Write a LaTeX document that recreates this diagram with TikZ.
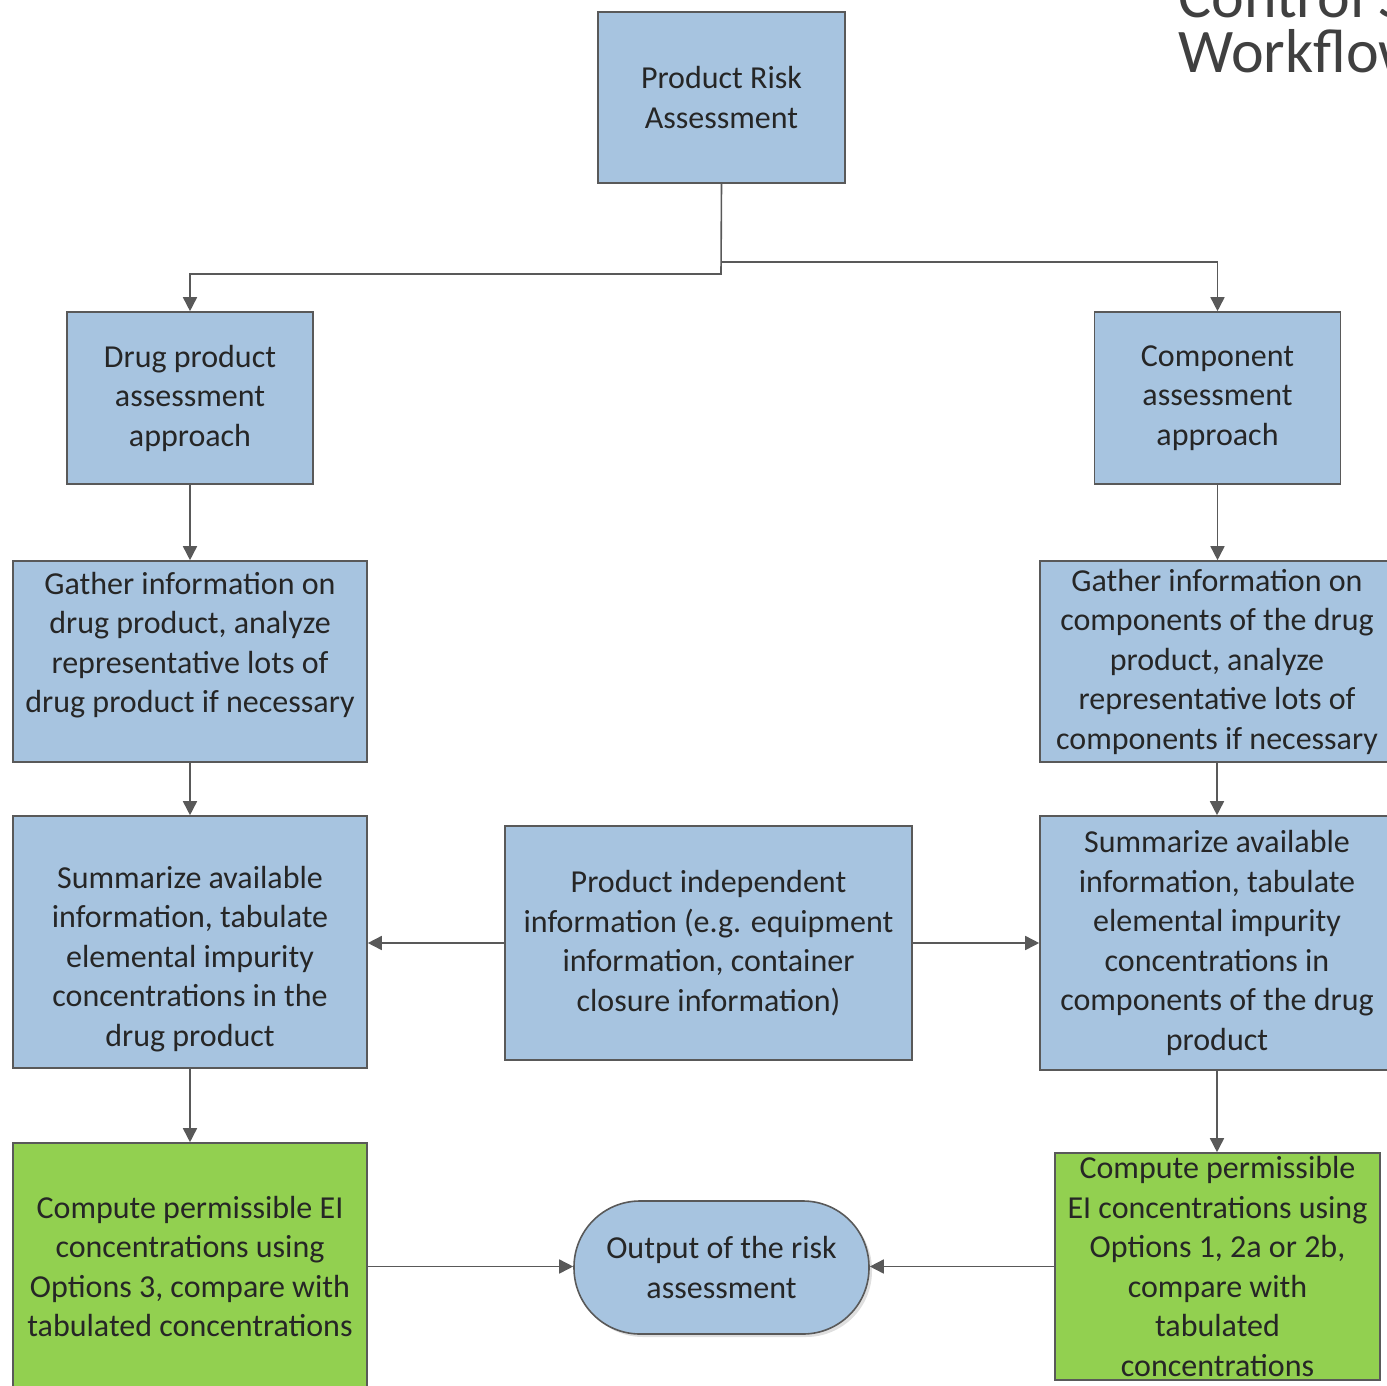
\documentclass[tikz,border=0pt]{standalone}
\usepackage{fontspec}
\setmainfont{Carlito}
\usetikzlibrary{arrows.meta,positioning,calc,shadows}

\definecolor{boxblue}{HTML}{A7C4E0}
\definecolor{boxgreen}{HTML}{92D050}
\definecolor{edgegray}{HTML}{595959}
\definecolor{titlegray}{HTML}{404040}

\begin{document}
\begin{tikzpicture}[
    x=0.5pt, y=-0.5pt,
    font=\fontsize{16}{19.75}\selectfont,
    box/.style={draw=edgegray, line width=0.8pt, fill=boxblue, align=center,
      text=black!85, inner sep=2pt},
    greenbox/.style={box, fill=boxgreen},
    arrow/.style={-{Triangle[length=7pt,width=7pt]}, draw=edgegray, line width=0.8pt}
  ]
    \path[use as bounding box, clip] (0,0) rectangle (1387,1386);

    % title, cut off by the page edge
    \node[anchor=base west, inner sep=0pt, text=titlegray, align=left,
      font=\fontsize{31}{27.5}\selectfont] (title) at (1178,73) {Control S\\Workflow};

    \node[box, minimum width=123.5pt, minimum height=85.5pt] (prisk) at (721.5,97.5)
      {Product Risk\\Assessment};

    % left column
    \node[box, minimum width=123pt, minimum height=86pt] (drugapp) at (190,398)
      {Drug product\\assessment\\approach};
    \node[box, minimum width=177pt, minimum height=100.5pt, text depth=19pt] (gatherl) at (190,661.5)
      {Gather information on\\drug product, analyze\\representative lots of\\drug product if necessary};
    \node[box, minimum width=177pt, minimum height=126pt, text height=107pt] (suml) at (190,942)
      {Summarize available\\information, tabulate\\elemental impurity\\concentrations in the\\drug product};
    \node[greenbox, minimum width=177pt, minimum height=123.5pt] (computel) at (190,1266.5)
      {Compute permissible EI\\concentrations using\\Options 3, compare with\\tabulated concentrations};

    % right column
    \node[box, minimum width=123pt, minimum height=86pt] (compapp) at (1217.5,398)
      {Component\\assessment\\approach};
    \node[box, minimum width=177pt, minimum height=100.5pt, inner ysep=0pt] (gatherr) at (1217,661.5)
      {Gather information on\\components of the drug\\product, analyze\\representative lots of\\components if necessary};
    \node[box, minimum width=177pt, minimum height=127pt] (sumr) at (1217,943)
      {Summarize available\\information, tabulate\\elemental impurity\\concentrations in\\components of the drug\\product};
    \node[greenbox, minimum width=162.5pt, minimum height=113.5pt, inner ysep=0pt] (computer) at (1217.5,1266.5)
      {Compute permissible\\EI concentrations using\\Options 1, 2a or 2b,\\compare with\\tabulated\\concentrations};

    % middle
    \node[box, minimum width=203.5pt, minimum height=117pt] (indep) at (708.5,943)
      {Product independent\\information (e.g. equipment\\information, container\\closure information)};
    \node[box, minimum width=147.5pt, minimum height=66.5pt, rounded corners=33pt,
      drop shadow={opacity=0.25, shadow xshift=1.5pt, shadow yshift=-1.5pt}] (output) at (721.5,1267.5)
      {Output of the risk\\assessment};

    % connectors
    \coordinate (splitl) at (721,274);
    \coordinate (splitr) at (721,262);
    \draw[arrow] (prisk.south) -- (splitl) -| (drugapp.north);
    \draw[arrow] (splitr) -| (compapp.north);
    \draw[arrow] (drugapp.south) -- (gatherl.north);
    \draw[arrow] (gatherl.south) -- (suml.north);
    \draw[arrow] (suml.south) -- (computel.north);
    \draw[arrow] (compapp.south) -- (compapp.south |- gatherr.north);
    \draw[arrow] (gatherr.south) -- (sumr.north);
    \draw[arrow] (sumr.south) -- (sumr.south |- computer.north);
    \draw[arrow] (indep.west) -- (indep.west -| suml.east);
    \draw[arrow] (indep.east) -- (indep.east -| sumr.west);
    \draw[arrow] (computel.east) -- (computel.east -| output.west);
    \draw[arrow] (computer.west) -- (computer.west -| output.east);
  \end{tikzpicture}
\end{document}
